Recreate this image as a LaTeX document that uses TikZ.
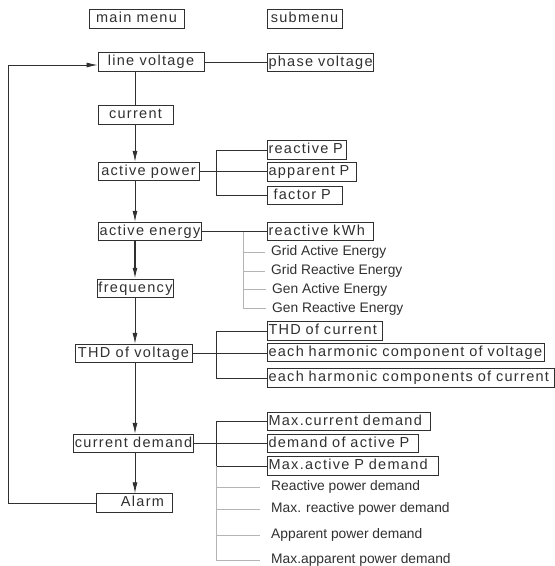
\documentclass[tikz,border=0pt]{standalone}
\usepackage{fontspec}
\setmainfont{Liberation Sans}
\newfontfamily\boxfont[LetterSpace=9]{Liberation Sans}
\usetikzlibrary{arrows.meta}
\definecolor{ink}{HTML}{303030}
\definecolor{faint}{HTML}{B4B4B4}
\tikzset{
  mbox/.style={draw=ink, line width=1pt, text=ink, font=\boxfont\fontsize{14.5}{16}\selectfont,
    inner xsep=1pt, inner ysep=2.5pt, text height=10.5pt, text depth=3pt, minimum width=#1},
  sbox/.style={mbox, anchor=west, text width=#1, align=left},
  plain/.style={text=ink, font=\fontsize{13.8}{15}\selectfont, anchor=west, inner xsep=0pt},
  link/.style={draw=ink, line width=0.8pt},
  thin/.style={draw=faint, line width=0.7pt},
  flow/.style={link, -{Latex[length=11pt,width=5pt]}}
}
\begin{document}
\begin{tikzpicture}[x=1pt,y=-1pt]
      \useasboundingbox (0,0) rectangle (555,566);
      \coordinate (spine) at (135,0);
      \coordinate (brk) at (216,0);

      % headings
      \node[mbox=95pt] (mm) at (136.5,19) {main menu};
      \node[mbox=75pt] (sm) at (304.5,19) {submenu};

      % main menu column
      \node[mbox=106pt] (lv) at (151,62) {line voltage};
      \node[mbox=75pt] (cur) at (135.5,115) {current};
      \node[mbox=101pt] (ap) at (148.5,171.5) {active power};
      \node[mbox=102pt] (ae) at (150,231.5) {active energy};
      \node[mbox=75pt] (fr) at (135.5,288.5) {frequency};
      \node[mbox=117pt] (thdv) at (133.5,353.5) {THD of voltage};
      \node[mbox=117pt] (cd) at (133.5,443.5) {current demand};
      \node[mbox=76pt] (al) at (134,503) {\hspace*{17pt}Alarm};

      % submenus
      \node[sbox=104pt] (pv) at (267,62.5) {phase voltage};
      \node[sbox=77pt] (rp) at (267,150) {reactive P};
      \node[sbox=87pt] (app) at (267,172) {apparent P};
      \node[sbox=73pt] (fp) at (267,195.5) {\hspace*{5pt}factor P};
      \node[sbox=104pt] (rk) at (267,231.5) {reactive kWh};
      \node[sbox=113pt] (thdc) at (267,331) {THD of current};
      \node[sbox=275pt] (hv) at (267,352.5) {each harmonic component of voltage};
      \node[sbox=285pt] (hc) at (267,378) {each harmonic components of current};
      \node[sbox=161pt] (mcd) at (267,421.5) {Max.current demand};
      \node[sbox=149pt] (dap) at (267,443.5) {demand of active P};
      \node[sbox=169pt] (mapd) at (267,466) {Max.active P demand};

      \node[plain] (e1) at (271,252) {Grid Active Energy};
      \node[plain] (e2) at (271,271) {Grid Reactive Energy};
      \node[plain] (e3) at (272,289.5) {Gen Active Energy};
      \node[plain] (e4) at (272,308.5) {Gen Reactive Energy};
      \node[plain] (d1) at (271,487) {Reactive power demand};
      \node[plain] (d2) at (271,509) {Max. reactive power demand};
      \node[plain] (d3) at (271,535) {Apparent power demand};
      \node[plain] (d4) at (271,560) {Max.apparent power demand};

      % main flow
      \draw[link] (spine |- lv.south) -- (spine |- cur.north);
      \draw[flow] (spine |- cur.south) -- (spine |- ap.north);
      \draw[flow] (spine |- ap.south) -- (spine |- ae.north);
      \draw[flow, line width=1.3pt] (spine |- ae.south) -- (spine |- fr.north);
      \draw[flow] (spine |- fr.south) -- (spine |- thdv.north);
      \draw[flow] (spine |- thdv.south) -- (spine |- cd.north);
      \draw[flow] (spine |- cd.south) -- (spine |- al.north);
      \coordinate (back) at (8,503);
      \draw[flow] (al.west) -- (back) |- ([yshift=-3pt]lv.west);

      % links to submenus
      \draw[link] (lv.east) -- (pv.west |- lv.east);
      \draw[link] (ap.east) -- (app.west |- ap.east);
      \draw[link] (ae.east) -- (rk.west);
      \draw[link] (thdv.east) -- (hv.west |- thdv.east);
      \draw[link] (cd.east) -- (dap.west |- cd.east);
      \draw[link] (rp.west) -- (rp.west -| brk) |- (fp.west);
      \draw[link] (thdc.west) -- (thdc.west -| brk) |- (hc.west);
      \draw[link] (mcd.west) -- (mcd.west -| brk) |- (mapd.west);

      % further items
      \coordinate (g1) at (243,231.5);
      \draw[thin] (g1) |- ([xshift=-6pt]e4.west);
      \foreach \n in {e1,e2,e3}
        \draw[thin] (g1 |- \n.west) -- ([xshift=-6pt]\n.west);
      \draw[thin] (mapd.west -| brk) |- ([xshift=-11pt]d4.west);
      \foreach \n in {d1,d2,d3}
        \draw[thin] (brk |- \n.west) -- ([xshift=-11pt]\n.west);
\end{tikzpicture}
\end{document}
